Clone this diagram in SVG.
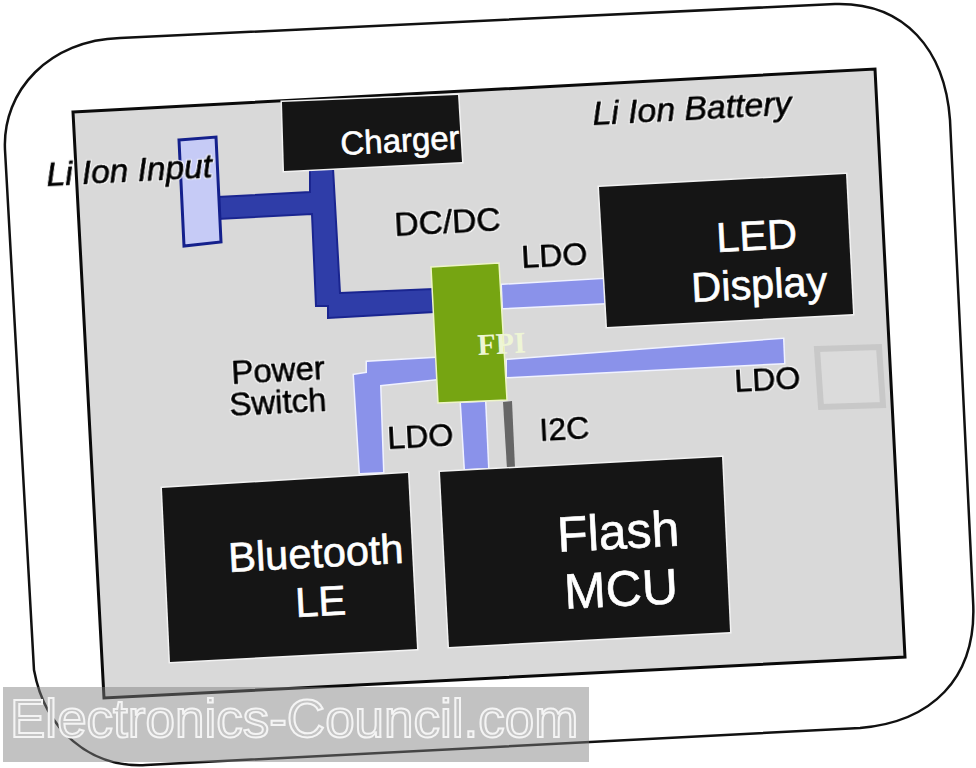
<svg xmlns="http://www.w3.org/2000/svg" width="976" height="768" viewBox="0 0 976 768">
<defs>
<filter id="halo" x="-10%" y="-30%" width="120%" height="160%" color-interpolation-filters="sRGB">
<feMorphology in="SourceAlpha" operator="dilate" radius="1.2" result="d"/>
<feFlood flood-color="#fff" flood-opacity=".85"/>
<feComposite in2="d" operator="in" result="h"/>
<feMerge><feMergeNode in="h"/><feMergeNode in="SourceGraphic"/></feMerge>
</filter>
</defs>
<style>
text{font-family:"Liberation Sans",Arial,sans-serif}
.lb{fill:#000;font-size:32px;stroke:#000;stroke-width:.7px;filter:url(#halo)}
.it{font-style:italic}
.wt{fill:#fff;stroke:#fff;stroke-width:.6px;filter:none}
.box{fill:#151515;stroke:#f2f2f2;stroke-width:3px;paint-order:stroke}
.dk{fill:#2f3da8;stroke:#1a2590;stroke-width:2px}
.lt{fill:#8a92ea;stroke:#f0f2ff;stroke-width:3px;paint-order:stroke}
</style>
<rect width="976" height="768" fill="#fff"/>
<path id="outline" d="M120 38L835 4C905 2 945 50 950 120L973 600C978 680 930 722 860 728L146 765C90 768 45 730 34 670L5 150C2 90 50 40 120 38Z" fill="#fff" stroke="#111" stroke-width="2.5"/>
<g id="battery">
<polygon points="73,112 875,69 905,657 104,698" fill="#d9d9d9" stroke="#0a0a0a" stroke-width="3"/>
<text class="lb it" style="font-size:33.8px" transform="translate(593,125) rotate(-3)">Li Ion Battery</text>
</g>
<g id="connectors">
<polygon class="dk" points="217,197 310,192 310,170 333,168 340,293 433,289 434,312 328,318 328,306 316,306 312,214 218,219"/>
<polygon class="lt" points="502,285 605,279 606,303 503,308"/>
<polygon class="lt" points="507,360 783,339 784,363 507,377"/>
<polygon class="lt" points="436,358 367,362 367,373 354,375 360,473 383,472 380,385 437,379"/>
<polygon class="lt" points="461,403 485,402 488,468 465,469"/>
<polygon points="503,402 512,401 515,468 507,469" fill="#666"/>
</g>
<g id="input">
<polygon points="179,140 216,137 221,242 184,246" fill="#c6cbf6" stroke="#14208c" stroke-width="3"/>
<text class="lb it" style="font-size:33.5px" transform="translate(47,186) rotate(-3)">Li Ion Input</text>
</g>
<g id="charger">
<polygon class="box" points="282,102 458,95 462,162 284,171"/>
<text class="lb wt" style="font-size:33px" transform="translate(341,155) rotate(-3)">Charger</text>
</g>
<g id="fpi">
<polygon points="431,267 499,263 507,400 438,403" fill="#76a512" stroke="#eef5c8" stroke-width="1.5"/>
<text transform="translate(478,355) rotate(-3)" style="font-family:'Liberation Serif',serif;font-weight:bold;font-size:30px" fill="#eef5d5">FPI</text>
</g>
<g id="led-display">
<polygon class="box" points="599,187 846,174 853,314 607,327"/>
<text class="lb wt" style="font-size:41.5px" transform="translate(717,252) rotate(-3)">LED</text>
<text class="lb wt" style="font-size:41.5px" transform="translate(692,302) rotate(-3)">Display</text>
</g>
<g id="bluetooth">
<polygon class="box" points="162,488 408,473 417,649 170,662"/>
<text class="lb wt" style="font-size:41.5px" transform="translate(229,572) rotate(-3)">Bluetooth</text>
<text class="lb wt" style="font-size:41.5px" transform="translate(296,617) rotate(-3)">LE</text>
</g>
<g id="flash-mcu">
<polygon class="box" points="440,472 722,457 730,632 449,647"/>
<text class="lb wt" style="font-size:50px" transform="translate(558,552) rotate(-3)">Flash</text>
<text class="lb wt" style="font-size:50px" transform="translate(565,609) rotate(-3)">MCU</text>
</g>
<g id="labels">
<text class="lb" style="font-size:33.5px" transform="translate(395,236) rotate(-3)">DC/DC</text>
<text class="lb" transform="translate(522,268) rotate(-3)">LDO</text>
<text class="lb" transform="translate(388,449) rotate(-3)">LDO</text>
<text class="lb" transform="translate(540,441) rotate(-3)">I2C</text>
<text class="lb" transform="translate(735,392) rotate(-3)">LDO</text>
<text class="lb" style="font-size:33px" transform="translate(232,384) rotate(-3)">Power</text>
<text class="lb" style="font-size:33px" transform="translate(230,416) rotate(-3)">Switch</text>
</g>
<polygon id="pad" points="817,349 879,347 883,405 821,407" fill="#dbdbdb" stroke="#c8c8c8" stroke-width="6"/>
<g id="watermark">
<rect x="3" y="687" width="586" height="75" fill="#808080" fill-opacity=".48"/>
<text x="10" y="737" style="font-size:53px" fill="#c4c4c4" stroke="#f4f4f4" stroke-width="2">Electronics-Council.com</text>
</g>
</svg>
